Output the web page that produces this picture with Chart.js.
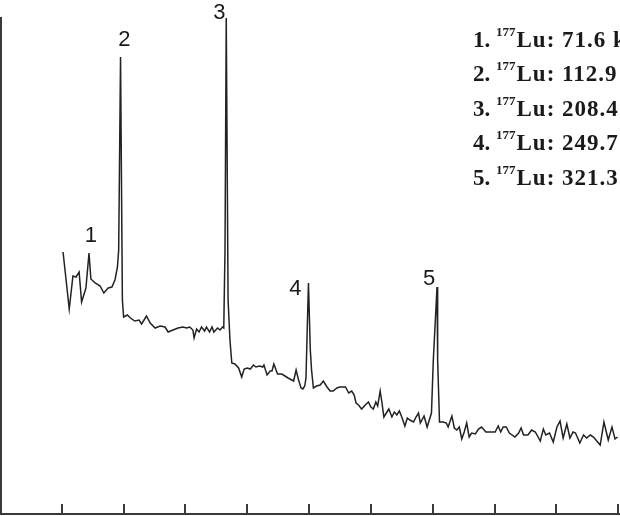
<!DOCTYPE html>
<html>
<head>
<meta charset="utf-8">
<script src="https://cdn.jsdelivr.net/npm/chart.js@4.4.1/dist/chart.umd.min.js"></script>
<style>
  html, body { margin: 0; padding: 0; background: #fff; }
  #wrap { width: 620px; height: 516px; position: relative; }
</style>
</head>
<body>
<div id="wrap"><canvas id="spectrum"></canvas></div>
<script>
// spectrum: channel number and counts (arb. units)
var channels = [
  102, 112, 118, 123, 128, 132, 139, 144, 147, 154, 162, 168, 175, 181, 186, 190, 192, 195,
  198, 200, 206, 211, 218, 225, 229, 237, 243, 251, 259, 267, 272, 280, 288, 296, 302, 307,
  312, 314, 318, 322, 326, 331, 334, 339, 343, 346, 352, 356, 360, 362, 364, 366, 369, 372,
  375, 380, 386, 391, 395, 400, 405, 410, 414, 420, 425, 427, 432, 437, 440, 443, 449, 456,
  461, 466, 472, 475, 479, 483, 487, 490, 493, 495, 497, 499, 502, 504, 507, 512, 518, 523,
  529, 534, 539, 545, 550, 555, 559, 564, 569, 573, 576, 580, 585, 591, 596, 600, 604, 608,
  611, 615, 618, 621, 626, 629, 634, 638, 642, 646, 650, 655, 659, 663, 669, 673, 677, 680,
  686, 691, 698, 701, 707, 708, 711, 717, 722, 725, 731, 735, 739, 743, 747, 751, 755, 759,
  763, 769, 774, 779, 786, 793, 801, 806, 810, 814, 819, 824, 833, 839, 843, 847, 854, 860,
  866, 874, 879, 883, 889, 895, 901, 906, 911, 917, 922, 927, 931, 938, 944, 949, 955, 960,
  971, 977, 984, 990, 995, 999
];
var counts = [
  263, 206, 239, 238, 243, 213, 227, 262, 236, 232, 229, 222, 227, 228, 235, 248, 265, 458,
  215, 198, 200, 197, 194, 195, 191, 199, 192, 187, 189, 188, 183, 185, 187, 188, 187, 188,
  185, 177, 186, 183, 188, 184, 188, 183, 188, 183, 187, 185, 188, 187, 265, 497, 215, 175,
  152, 151, 147, 138, 146, 147, 146, 150, 148, 149, 148, 150, 140, 144, 144, 151, 141, 141,
  139, 137, 135, 134, 145, 135, 127, 126, 129, 137, 185, 232, 165, 145, 127, 129, 130, 134,
  128, 124, 124, 127, 128, 128, 128, 122, 124, 120, 112, 110, 106, 110, 113, 108, 106, 113,
  109, 124, 112, 98, 103, 106, 98, 103, 100, 104, 98, 89, 97, 95, 93, 98, 102, 92,
  99, 88, 102, 155, 228, 155, 93, 93, 92, 88, 99, 87, 85, 88, 76, 83, 92, 78,
  82, 81, 86, 88, 83, 83, 83, 89, 83, 88, 88, 82, 78, 82, 87, 80, 80, 85,
  83, 74, 86, 80, 82, 73, 88, 94, 77, 91, 77, 83, 82, 72, 80, 77, 80, 78,
  70, 93, 75, 88, 76, 78
];

// x axis tick marks (labels are cut off in the picture)
var xTicks = [100, 200, 300, 400, 500, 600, 700, 800, 900, 1000];

// peak numbers and where their labels sit (channel, counts)
var peakNames = ['1', '2', '3', '4', '5'];
var peakLabelX = [147, 201, 355, 478, 694];
var peakLabelY = [279, 475, 502, 226, 236];

// legend lines
var isotope = '177';
var element = 'Lu';
var energies = ['71.6', '112.9', '208.4', '249.7', '321.3'];

var points = channels.map(function(c, i) { return { x: c, y: counts[i] }; });

var framePlugin = {
  id: 'frame',
  afterDraw: function(chart) {
    var ctx = chart.ctx;
    var xs = chart.scales.x, ys = chart.scales.y;
    var area = chart.chartArea;
    ctx.save();

    // axes
    ctx.strokeStyle = '#3a3a3a';
    ctx.lineWidth = 2;
    ctx.beginPath();
    ctx.moveTo(1, area.top);
    ctx.lineTo(1, area.bottom - 1);
    ctx.lineTo(area.right, area.bottom - 1);
    ctx.stroke();

    // inward tick marks
    ctx.beginPath();
    xTicks.forEach(function(v) {
      var px = Math.round(xs.getPixelForValue(v));
      ctx.moveTo(px, area.bottom - 1);
      ctx.lineTo(px, area.bottom - 11);
    });
    ctx.stroke();

    // peak numbers
    ctx.fillStyle = '#1a1a1a';
    ctx.font = '22px "Liberation Sans", Arial, sans-serif';
    ctx.textAlign = 'center';
    ctx.textBaseline = 'middle';
    peakNames.forEach(function(n, i) {
      ctx.fillText(n, xs.getPixelForValue(peakLabelX[i]), ys.getPixelForValue(peakLabelY[i]));
    });

    // legend text
    ctx.textAlign = 'left';
    ctx.textBaseline = 'alphabetic';
    energies.forEach(function(e, i) {
      var x = 473;
      var y = 47 + i * 34.4;
      ctx.letterSpacing = '0px';
      ctx.font = 'bold 23px "Liberation Serif", "Times New Roman", serif';
      var s = (i + 1) + '. ';
      ctx.fillText(s, x, y);
      x += ctx.measureText(s).width;
      ctx.font = 'bold 13px "Liberation Serif", "Times New Roman", serif';
      ctx.fillText(isotope, x, y - 11);
      x += ctx.measureText(isotope).width + 1;
      ctx.letterSpacing = '1px';
      ctx.font = 'bold 23px "Liberation Serif", "Times New Roman", serif';
      ctx.fillText(element + ': ' + e + ' keV', x, y);
    });
    ctx.restore();
  }
};

new Chart(document.getElementById('spectrum'), {
  type: 'line',
  data: {
    datasets: [{
      data: points,
      borderColor: '#222',
      borderWidth: 1.5,
      pointRadius: 0,
      tension: 0,
      fill: false
    }]
  },
  options: {
    responsive: true,
    maintainAspectRatio: false,
    animation: false,
    layout: { padding: { top: 17, bottom: 1, left: 0, right: 0 } },
    plugins: { legend: { display: false }, tooltip: { enabled: false } },
    scales: {
      x: { type: 'linear', min: 0, max: 1003, display: false },
      y: { min: 0, max: 498, display: false }
    }
  },
  plugins: [framePlugin]
});
</script>
</body>
</html>
